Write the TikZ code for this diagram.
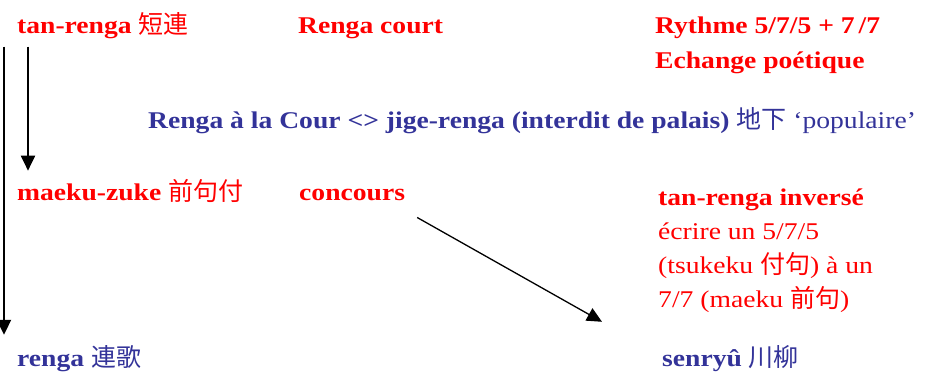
\documentclass[tikz,border=0pt]{standalone}
\usepackage{fontspec}
\setmainfont{Liberation Serif}[FakeStretch=1.15]
\newfontfamily\jp{Noto Sans CJK JP}
\usetikzlibrary{positioning,arrows.meta}
\definecolor{rouge}{RGB}{255,0,0}
\definecolor{bleu}{RGB}{51,51,153}
\newcommand\kanji[1]{{\jp\fontsize{25}{34}\selectfont #1}}

\begin{document}
\begin{tikzpicture}[x=1pt, y=-1pt,
    every node/.style={anchor=base west, inner sep=0pt, font=\fontsize{24}{34}\selectfont},
    red text/.style={text=rouge},
    blue text/.style={text=bleu},
    arr/.style={-{Triangle[width=14pt,length=15pt]}, line width=2pt}]
    \useasboundingbox (0,0) rectangle (945,376);

    % top row
    \node[red text] (tanrenga) at (17,33) {\textbf{tan-renga} \kanji{短連}};
    \node[red text] (court) at (298,33) {\textbf{Renga court}};
    \node[red text, align=left, font=\fontsize{24}{35}\selectfont] (rythme) at (655,68) {\textbf{Rythme 5/7/5 + 7\,/7}\\
        \textbf{Echange poétique}};

    \node[blue text] (cour) at (148,128) {\textbf{Renga à la Cour <> jige-renga (interdit de palais)} \kanji{地下} ‘populaire’};

    % middle row
    \node[red text] (maeku) at (17,200) {\textbf{maeku-zuke} \kanji{前句付}};
    \node[red text] (concours) at (299,200) {\textbf{concours}};
    \node[red text, align=left] (inverse) at (658,307) {\textbf{tan-renga inversé}\\
        écrire un 5/7/5\\
        (tsukeku \kanji{付句}) à un\\
        7/7 (maeku \kanji{前句})};

    % bottom row
    \node[blue text] (renga) at (17,366) {\textbf{renga} \kanji{連歌}};
    \node[blue text] (senryu) at (662,366) {\textbf{senryû} \kanji{川柳}};

    \draw[arr] ([xshift=-13pt, yshift=-8pt]tanrenga.south west) -- ([xshift=-13pt, yshift=10pt]renga.north west);
    \draw[arr] ([xshift=11pt, yshift=-8pt]tanrenga.south west) -- ([xshift=11pt, yshift=8pt]maeku.north west);
    \draw[arr, line width=1.3pt] ([xshift=12pt, yshift=-17pt]concours.south east) -- ([xshift=-60pt, yshift=23pt]senryu.north west);
\end{tikzpicture}
\end{document}
